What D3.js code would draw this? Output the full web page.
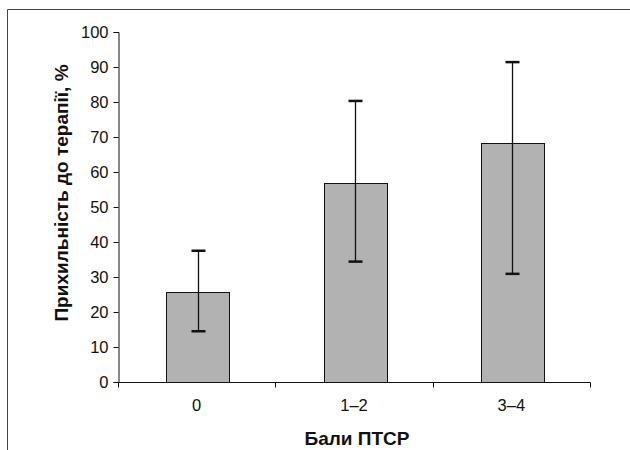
<!DOCTYPE html>
<html><head><meta charset="utf-8">
<script src="https://cdn.jsdelivr.net/npm/d3@7"></script>
<style>
html,body{margin:0;padding:0;background:#fff;}
svg{display:block;font-family:"Liberation Sans",Arial,sans-serif;}
</style></head>
<body>
<svg id="c" width="630" height="450"></svg>
<script>
const categories = ["0", "1–2", "3–4"];
const values = [25.8, 56.9, 68.2];
const errUpper = [37.5, 80.3, 91.4];
const errLower = [14.5, 34.4, 30.9];
const yTicks = [0, 10, 20, 30, 40, 50, 60, 70, 80, 90, 100];
const xTitle = "Бали ПТСР";
const yTitle = "Прихильність до терапії, %";

(function () {
const svg = d3.select("#c");
// frame
svg.append("path").attr("d", "M7.5,450 V9.5 H630").attr("fill","none").attr("stroke","#444").attr("stroke-width",1);

const pL = 118, pR = 590, pT = 32, pB = 382;
const x = d3.scaleBand().domain(categories).range([pL, pR]).paddingInner(0.6).paddingOuter(0.3);
const xb = d3.scaleBand().domain(categories).range([pL, pR]).padding(0);
const y = d3.scaleLinear().domain([0, 100]).range([pB, pT]);

// bars
svg.append("g").selectAll("rect").data(categories).join("rect")
  .attr("x", d => Math.round(x(d)) + 1.5)
  .attr("y", (d, i) => Math.round(y(values[i])) + 0.5)
  .attr("width", Math.round(x.bandwidth()))
  .attr("height", (d, i) => Math.round(y(0)) - Math.round(y(values[i])))
  .attr("fill", "#b2b2b2").attr("stroke", "#111").attr("stroke-width", 1);

// y axis
const yAxis = svg.append("g").attr("transform", `translate(${pL + 0.5},0)`)
  .call(d3.axisLeft(y).tickValues(yTicks).tickSize(5).tickPadding(5));
yAxis.selectAll("text").attr("font-size", 16.5).attr("fill", "#111").attr("font-family", "Liberation Sans, Arial, sans-serif");
yAxis.selectAll("line,path").attr("stroke", "#111");
yAxis.select(".domain").attr("d", `M-5,${y(0)+0.5}H0.5V${y(100)+0.5}H-5`);

// x axis
const xg = svg.append("g").attr("transform", `translate(0,${pB + 0.5})`);
xg.append("line").attr("x1", pL).attr("x2", pR + 0.5).attr("stroke", "#111");
const bounds = categories.map(c => xb(c)).concat([xb(categories[categories.length - 1]) + xb.bandwidth()]);
xg.selectAll(".tk").data(bounds).join("line").attr("class", "tk")
  .attr("x1", d => Math.round(d) + 0.5).attr("x2", d => Math.round(d) + 0.5)
  .attr("y1", 0).attr("y2", 5).attr("stroke", "#111");
xg.selectAll(".lb").data(categories).join("text").attr("class", "lb")
  .attr("x", d => x(d) + x.bandwidth() / 2).attr("y", 28)
  .attr("text-anchor", "middle").attr("font-size", 16.5).attr("fill", "#111").text(d => d);

// error bars
const eb = svg.append("g").attr("stroke", "#111");
categories.forEach((c, i) => {
  const cx = Math.round(x(c) + x.bandwidth() / 2) + 1.5;
  eb.append("line").attr("x1", cx).attr("x2", cx).attr("y1", y(errUpper[i])).attr("y2", y(errLower[i])).attr("stroke-width", 1.3);
  [errUpper[i], errLower[i]].forEach(v => {
    eb.append("line").attr("x1", cx - 7).attr("x2", cx + 7).attr("y1", y(v)).attr("y2", y(v)).attr("stroke-width", 2.5);
  });
});

// titles
svg.append("text").attr("x", 357).attr("y", 445).attr("text-anchor", "middle")
  .attr("font-size", 19).attr("font-weight", "bold").attr("fill", "#111").text(xTitle);
svg.append("text").attr("transform", `translate(68,193) rotate(-90)`).attr("text-anchor", "middle")
  .attr("font-size", 19).attr("font-weight", "bold").attr("fill", "#111").text(yTitle);
})();
</script>
</body></html>
